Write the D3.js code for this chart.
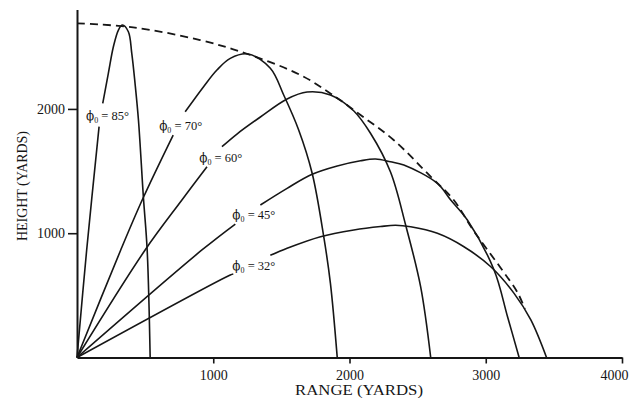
<!DOCTYPE html>
<html>
<head>
<meta charset="utf-8">
<script src="https://cdn.jsdelivr.net/npm/d3@7/dist/d3.min.js"></script>
<style>
  html, body { margin: 0; padding: 0; background: #fff; }
  svg { display: block; }
</style>
</head>
<body>
<script>
// ---- data (range in yards, height in yards) ----
const xTicks = [1000, 2000, 3000, 4000];
const yTicks = [1000, 2000];
const angles = [85, 70, 60, 45, 32];

// null marks the break in each line where its label sits
const traj85 = [[0,0],[71,865],[162,1857],null,[189,2045],[230,2286],[267,2500],[304,2635],[333,2675],[377,2621],[402,2447],[426,2206],[451,1911],[487,1294],[515,865],[537,0]];
const traj70 = [[0,0],[321,865],[485,1283],[706,1790],null,[794,1977],[929,2179],[1027,2313],[1125,2407],[1257,2442],[1419,2327],[1517,2112],[1627,1831],[1726,1482],[1811,972],[1860,597],[1910,0]];
const traj60 = [[0,0],[500,865],[770,1267],[954,1535],null,[1064,1696],[1174,1798],[1346,1935],[1542,2080],[1689,2136],[1860,2112],[2032,1983],[2154,1804],[2301,1492],[2412,1066],[2522,570],[2596,0]];
const traj45 = [[0,0],[917,865],[1162,1074],null,[1346,1227],[1542,1361],[1726,1474],[1910,1541],[2081,1583],[2191,1597],[2301,1575],[2399,1549],[2645,1401],[2743,1267],[2865,1106],[3061,704],[3160,328],[3245,0]];
const traj32 = [[0,0],[1125,664],[1147,672],null,[1419,822],[1542,879],[1787,972],[2032,1026],[2228,1054],[2338,1064],[2449,1052],[2645,999],[2840,891],[3037,730],[3208,516],[3331,302],[3446,0]];
const envelope = [[0,2689],[412,2656],[904,2554],[1272,2434],[1640,2273],[1860,2125],[2081,1951],[2324,1750],[2596,1455],[2765,1267],[2912,1018],[3110,720],[3235,519],[3287,390]];

const trajectories = [traj85, traj70, traj60, traj45, traj32];

// label anchors (data units: start of text, baseline)
const labelAnchors = [[66,1911],[603,1830],[897,1573],[1140,1114],[1140,704]];

// ---- drawing ----
const W = 629, H = 398;
const svg = d3.select("body").append("svg").attr("width", W).attr("height", H);

const x = d3.scaleLinear().domain([0, 4000]).range([77, 622]);
const y = d3.scaleLinear().domain([0, 2800]).range([357.5, 9.5]);

const ink = "#161616";
const serif = "'Liberation Serif', 'DejaVu Serif', serif";

const line = d3.line()
  .defined(d => d !== null)
  .x(d => x(d[0]))
  .y(d => y(d[1]))
  .curve(d3.curveCatmullRom.alpha(0.5));

// envelope (dashed)
svg.append("path")
  .datum(envelope)
  .attr("d", line)
  .attr("fill", "none")
  .attr("stroke", ink)
  .attr("stroke-width", 1.8)
  .attr("stroke-dasharray", "8,5");

// trajectories
svg.selectAll("path.traj")
  .data(trajectories)
  .join("path")
  .attr("class", "traj")
  .attr("d", line)
  .attr("fill", "none")
  .attr("stroke", ink)
  .attr("stroke-width", 1.6);

// axes
const xAxis = d3.axisBottom(x).tickValues(xTicks).tickSize(6).tickPadding(7).tickSizeOuter(0).tickFormat(d3.format("d"));
const yAxis = d3.axisLeft(y).tickValues(yTicks).tickSize(9).tickPadding(3).tickSizeOuter(0).tickFormat(d3.format("d"));

const gx = svg.append("g").attr("transform", `translate(0,${y(0)})`).call(xAxis);
const gy = svg.append("g").attr("transform", `translate(${x(0)},0)`).call(yAxis);

[gx, gy].forEach(g => {
  g.select(".domain").attr("stroke", ink).attr("stroke-width", 2);
  g.selectAll(".tick line").attr("stroke", ink).attr("stroke-width", 1.6);
  g.selectAll(".tick text").attr("fill", ink).style("font-family", serif).style("font-size", "14px");
});
// keep the last tick label inside the page
gx.selectAll(".tick text").filter(d => d === 4000).attr("text-anchor", "end").attr("dx", 6);

// axis titles
svg.append("text")
  .attr("x", 359).attr("y", 395)
  .attr("text-anchor", "middle")
  .attr("textLength", 128).attr("lengthAdjust", "spacingAndGlyphs")
  .style("font-family", serif).style("font-size", "14px").attr("fill", ink)
  .text("RANGE (YARDS)");

svg.append("text")
  .attr("transform", "translate(26.5,186) rotate(-90)")
  .attr("text-anchor", "middle")
  .attr("textLength", 110).attr("lengthAdjust", "spacingAndGlyphs")
  .style("font-family", serif).style("font-size", "15px").attr("fill", ink)
  .text("HEIGHT (YARDS)");

// curve labels
angles.forEach((a, i) => {
  const t = svg.append("text")
    .attr("x", x(labelAnchors[i][0]))
    .attr("y", y(labelAnchors[i][1]))
    .style("font-family", serif).style("font-size", "12.5px").attr("fill", ink);
  t.append("tspan").style("font-family", "'DejaVu Serif', serif").style("font-size", "12px").attr("fill", ink).text("ϕ");
  t.append("tspan").attr("dy", 3).style("font-size", "8px").text("0");
  t.append("tspan").attr("dy", -3).text(" = " + a + "°");
});
</script>
</body>
</html>
